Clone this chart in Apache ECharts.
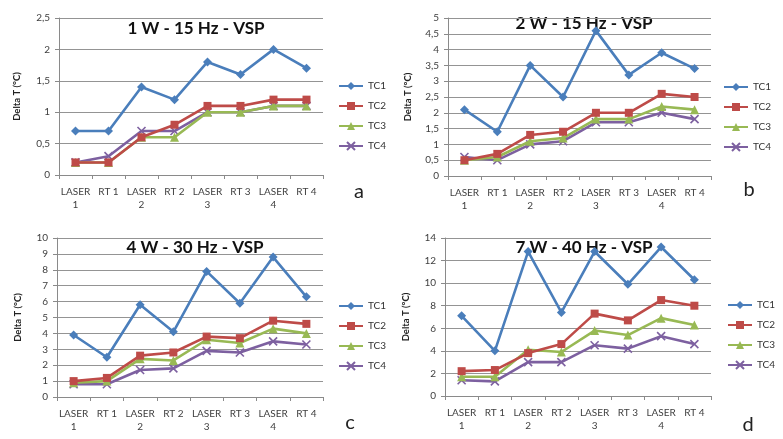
<!DOCTYPE html>
<html><head><meta charset="utf-8">
<script src="https://cdn.jsdelivr.net/npm/echarts@6/dist/echarts.min.js"></script>
<style>html,body{margin:0;padding:0;background:#fff}#c{width:783px;height:439px}</style>
</head><body><div id="c"></div>
<script>
const categories = ['LASER\n1','RT 1','LASER\n2','RT 2','LASER\n3','RT 3','LASER\n4','RT 4'];
const seriesNames = ['TC1','TC2','TC3','TC4'];
const panelTitles = ['1 W - 15 Hz - VSP','2 W - 15 Hz - VSP','4 W - 30 Hz - VSP','7 W - 40 Hz - VSP'];
const panelLetters = ['a','b','c','d'];
const yAxisName = 'Delta T (°C)';
const yMax = [2.5, 5, 10, 14];
const yInterval = [0.5, 0.5, 1, 2];

const a_TC1 = [0.7,0.7,1.4,1.2,1.8,1.6,2.0,1.7];
const a_TC2 = [0.2,0.2,0.6,0.8,1.1,1.1,1.2,1.2];
const a_TC3 = [0.2,0.2,0.6,0.6,1.0,1.0,1.1,1.1];
const a_TC4 = [0.2,0.3,0.7,0.7,1.0,1.0,1.1,1.1];

const b_TC1 = [2.1,1.4,3.5,2.5,4.6,3.2,3.9,3.4];
const b_TC2 = [0.5,0.7,1.3,1.4,2.0,2.0,2.6,2.5];
const b_TC3 = [0.5,0.6,1.1,1.2,1.8,1.8,2.2,2.1];
const b_TC4 = [0.6,0.5,1.0,1.1,1.7,1.7,2.0,1.8];

const c_TC1 = [3.9,2.5,5.8,4.1,7.9,5.9,8.8,6.3];
const c_TC2 = [1.0,1.2,2.6,2.8,3.8,3.7,4.8,4.6];
const c_TC3 = [0.9,1.0,2.4,2.3,3.6,3.4,4.3,4.0];
const c_TC4 = [0.8,0.8,1.7,1.8,2.9,2.8,3.5,3.3];

const d_TC1 = [7.1,4.0,12.8,7.4,12.8,9.9,13.2,10.3];
const d_TC2 = [2.2,2.3,3.8,4.6,7.3,6.7,8.5,8.0];
const d_TC3 = [1.7,1.7,4.1,3.9,5.8,5.4,6.9,6.3];
const d_TC4 = [1.4,1.3,3.0,3.0,4.5,4.2,5.3,4.6];

const panelData = [
  [a_TC1,a_TC2,a_TC3,a_TC4],
  [b_TC1,b_TC2,b_TC3,b_TC4],
  [c_TC1,c_TC2,c_TC3,c_TC4],
  [d_TC1,d_TC2,d_TC3,d_TC4]
];

const FONT = 'Lato, "Liberation Sans", sans-serif';
const colors = ['#4A7EBB','#BE4B48','#98B954','#7D60A0'];
const symbols = ['diamond','rect','triangle','path://M0 0L10 10M10 0L0 10'];
const symSizes = [9,8,9,8];

const grids = [
  {left:59, top:18, width:264, height:157},
  {left:448, top:18, width:263, height:158},
  {left:57, top:238, width:266, height:159},
  {left:445, top:238, width:266, height:158}
];
const nameGaps = [37,35,34,34];
const legendPos = [
  {left:338, top:81},
  {left:723, top:82},
  {left:338, top:301},
  {left:727, top:300}
];
const titlePos = [[196,29],[584,24],[195,248],[584,248]];
const letterPos = [[359,192],[749,190],[350,423],[748,425]];

const xAxes = [], yAxes = [], series = [], legends = [], graphics = [];
for (let p = 0; p < 4; p++) {
  xAxes.push({
    type:'category', gridIndex:p, data:categories, boundaryGap:true,
    axisLine:{lineStyle:{color:'#8a8a8a', width:1}},
    axisTick:{show:true, length:4, lineStyle:{color:'#8a8a8a'}},
    axisLabel:{interval:0, fontFamily:FONT, fontSize:10, color:'#404040', margin:11, lineHeight:12.5}
  });
  yAxes.push({
    type:'value', gridIndex:p, min:0, max:yMax[p], interval:yInterval[p],
    name:yAxisName, nameLocation:'middle', nameRotate:90, nameGap:nameGaps[p],
    nameTextStyle:{fontFamily:FONT, fontSize:9.5, fontWeight:'bold', color:'#222'},
    axisLine:{show:true, lineStyle:{color:'#8a8a8a'}},
    axisTick:{show:true, length:4, lineStyle:{color:'#8a8a8a'}},
    splitLine:{lineStyle:{color:'#949494', width:1}},
    axisLabel:{fontFamily:FONT, fontSize:10, color:'#404040', margin:9,
      formatter: v => String(v).replace('.', ',')}
  });
  for (let s = 0; s < 4; s++) {
    series.push({
      type:'line', name:seriesNames[s], xAxisIndex:p, yAxisIndex:p,
      data:panelData[p][s], symbol:symbols[s], symbolSize:symSizes[s],
      z: 10 - s,
      lineStyle:{color:colors[s], width:2.6},
      itemStyle:{color:colors[s], borderColor:colors[s], borderWidth: s===3 ? 1.6 : 0},
      emphasis:{disabled:true}, animation:false
    });
  }
  legends.push({
    orient:'vertical', left:legendPos[p].left, top:legendPos[p].top, padding:0,
    data:seriesNames, itemWidth:24, itemHeight:10, itemGap:10,
    textStyle:{fontFamily:FONT, fontSize:10, color:'#333'}
  });
  graphics.push({
    type:'text', x:titlePos[p][0], y:titlePos[p][1],
    style:{text:panelTitles[p], font:'bold 17px ' + FONT, fill:'#111', textAlign:'center', textVerticalAlign:'middle'}
  });
  graphics.push({
    type:'text', x:letterPos[p][0], y:letterPos[p][1],
    style:{text:panelLetters[p], font:'20px ' + FONT, fill:'#222', textAlign:'center', textVerticalAlign:'middle'}
  });
}

const chart = echarts.init(document.getElementById('c'), null, {renderer:'canvas'});
chart.setOption({
  animation:false,
  backgroundColor:'#fff',
  grid:grids, xAxis:xAxes, yAxis:yAxes, series:series, legend:legends,
  graphic:graphics
});
</script></body></html>
